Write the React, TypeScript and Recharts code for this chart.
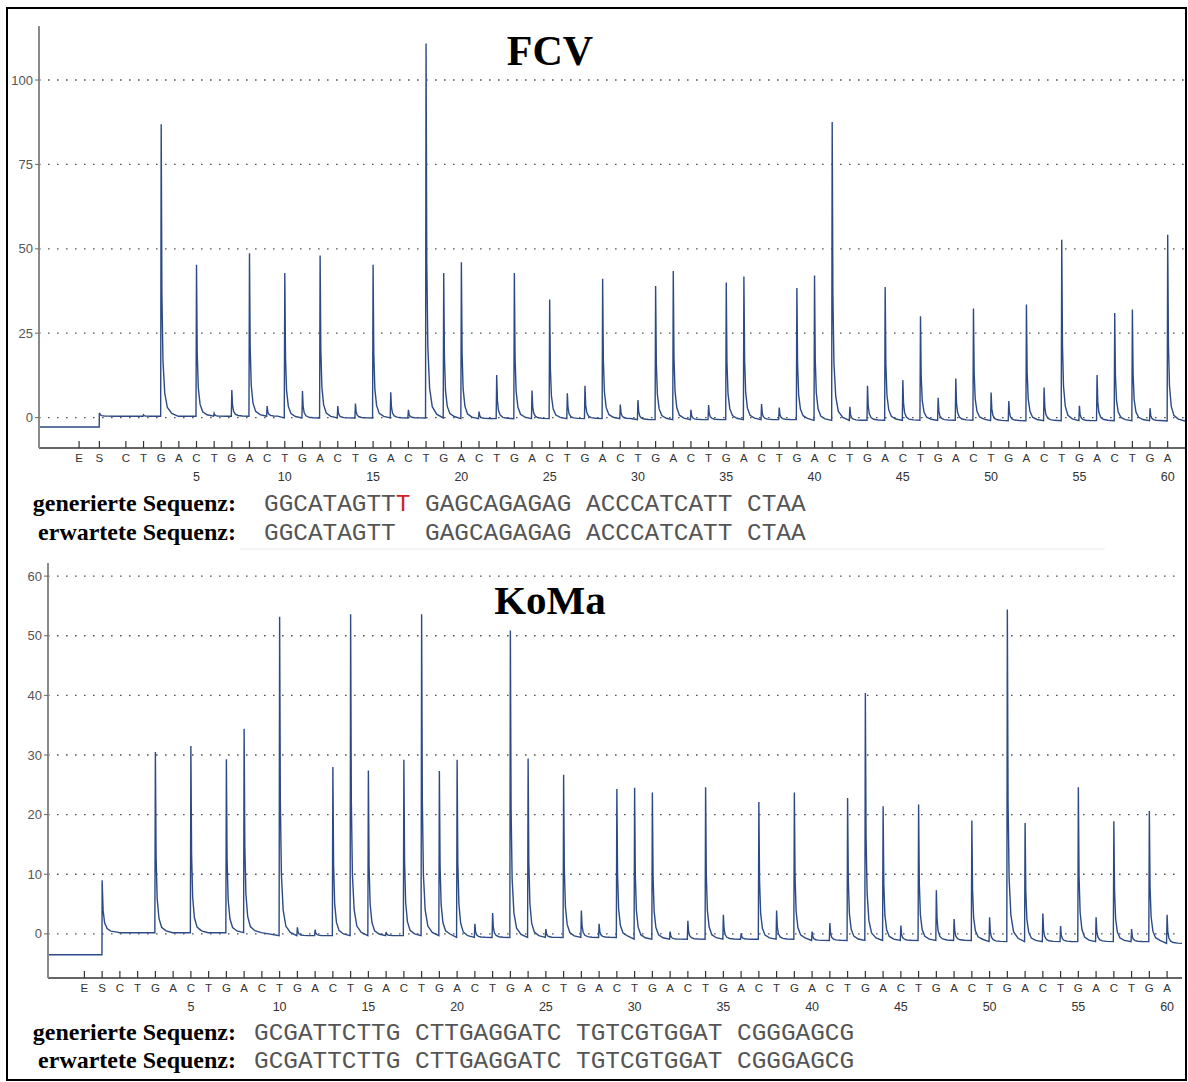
import React from 'react';
import { LineChart, Line, XAxis, YAxis, ReferenceLine } from 'recharts';

// ---------- labels ----------
const DISPENSATION = 'CTGACTGACTGACTGACTGACTGACTGACTGACTGACTGACTGACTGACTGACTGACTGA'.split('');
const POSITION_LABELS = [5, 10, 15, 20, 25, 30, 35, 40, 45, 50, 55, 60];

// ---------- FCV pyrogram (peak heights per dispensation 1..60) ----------
const FCV_PEAKS = [
  0, 0.8, 86.9, 0, 45.3, 1.3, 8.2, 48.7, 3.4, 42.8,
  7.9, 48, 3.4, 4.2, 45.3, 7.5, 2.3, 110.8, 42.8, 46,
  1.8, 12.6, 42.8, 8, 35, 7.2, 9.4, 41.1, 3.9, 5.2,
  39, 43.4, 2.3, 3.7, 40, 41.8, 4, 3, 38.4, 42.1,
  87.6, 3.2, 9.4, 38.7, 11.1, 30, 5.9, 11.6, 32.3, 7.4,
  4.9, 33.5, 8.9, 52.7, 3.5, 12.6, 31, 32, 2.8, 54.2,
];
const FCV_BASELINE = [0.4, -0.1, -0.3, -0.6, -0.8, -0.9, -1.0];
const FCV_PRE_START = -2.8;
const FCV_START_SIGNAL = 1.4;
const FCV_E = -1.65;
const FCV_S = -0.5;
const FCV_Y_TICKS = [0, 25, 50, 75, 100];

// ---------- KoMa pyrogram ----------
const KOMA_PEAKS = [
  0, 0, 30.5, 0, 31.5, 0, 29.3, 34.4, 0, 53.2,
  1.1, 0.7, 28, 53.6, 27.4, 0.3, 29.2, 53.6, 27.3, 29.2,
  1.7, 3.5, 50.9, 29.4, 0.8, 26.7, 3.9, 1.7, 24.3, 24.5,
  23.7, 0.4, 2.2, 24.6, 3.2, 0.1, 22.1, 3.9, 23.7, 0.4,
  1.8, 22.8, 40.4, 21.4, 1.4, 21.7, 7.3, 2.5, 19, 2.8,
  54.4, 18.6, 3.4, 1.3, 24.6, 2.8, 18.9, 0.8, 20.6, 3.2,
];
const KOMA_BASELINE = [0.2, -0.3, -0.6, -0.9, -1.1, -1.3, -1.6];
const KOMA_PRE_START = -3.5;
const KOMA_START_SIGNAL = 9;
const KOMA_E = -1;
const KOMA_S = 0;
const KOMA_Y_TICKS = [0, 10, 20, 30, 40, 50, 60];

// ---------- sequences ----------
const FCV_GENERATED = ['GGCATAGTT', 'T', ' GAGCAGAGAG ACCCATCATT CTAA'];
const FCV_EXPECTED = 'GGCATAGTT  GAGCAGAGAG ACCCATCATT CTAA';
const KOMA_GENERATED = 'GCGATTCTTG CTTGAGGATC TGTCGTGGAT CGGGAGCG';
const KOMA_EXPECTED = 'GCGATTCTTG CTTGAGGATC TGTCGTGGAT CGGGAGCG';

// peak decay profile (rendering of each pulse)
const DECAY: [number, number][] = [
  [0.04, 0.42],
  [0.1, 0.19],
  [0.2, 0.08],
  [0.35, 0.03],
  [0.6, 0.01],
];

function buildTrace(
  peaks: number[],
  baseline: number[],
  pre: number,
  startSignal: number,
  sPos: number,
  xMin: number,
  xMax: number
) {
  const base = (p: number) =>
    baseline[Math.min(baseline.length - 1, Math.floor(Math.max(p, 0) / 10))];
  const pts: { x: number; y: number }[] = [];
  pts.push({ x: xMin, y: pre });
  pts.push({ x: sPos - 0.01, y: pre });
  const b0 = base(0);
  pts.push({ x: sPos, y: startSignal });
  DECAY.forEach(([dx, f]) => pts.push({ x: sPos + dx * 1.4, y: b0 + f * (startSignal - b0) }));
  peaks.forEach((h, i) => {
    const p = i + 1;
    const b = base(p);
    pts.push({ x: p - 0.03, y: b });
    if (h > b + 0.3) {
      pts.push({ x: p, y: h });
      DECAY.forEach(([dx, f]) => pts.push({ x: p + dx, y: b + f * (h - b) }));
    }
  });
  pts.push({ x: xMax, y: base(60) });
  return pts;
}

const FCV_X_DOMAIN: [number, number] = [-3.92, 60.98];
const KOMA_X_DOMAIN: [number, number] = [-3.05, 60.84];

const fcvData = buildTrace(FCV_PEAKS, FCV_BASELINE, FCV_PRE_START, FCV_START_SIGNAL, FCV_S, FCV_X_DOMAIN[0], FCV_X_DOMAIN[1]);
const komaData = buildTrace(KOMA_PEAKS, KOMA_BASELINE, KOMA_PRE_START, KOMA_START_SIGNAL, KOMA_S, KOMA_X_DOMAIN[0], KOMA_X_DOMAIN[1]);

const positions = DISPENSATION.map((_, i) => i + 1);

const SANS = '"Liberation Sans", Arial, sans-serif';
const SERIF = '"Liberation Serif", "Times New Roman", serif';
const MONO = '"Liberation Mono", "Courier New", monospace';

const DispTick = (props: any) => {
  const { x, y, payload, ePos, sPos } = props;
  const v = payload.value;
  let label = '';
  if (Math.abs(v - ePos) < 1e-6) label = 'E';
  else if (Math.abs(v - sPos) < 1e-6) label = 'S';
  else label = DISPENSATION[Math.round(v) - 1] || '';
  const showNum = Math.abs(v - Math.round(v)) < 1e-6 && POSITION_LABELS.includes(Math.round(v));
  return (
    <g>
      <line x1={x} x2={x} y1={y - 7} y2={y} stroke="#333" strokeWidth={1.2} />
      <text x={x} y={y + 14} textAnchor="middle" fontSize={11.5} fill="#333" fontFamily={SANS}>
        {label}
      </text>
      {showNum && (
        <text x={x} y={y + 33} textAnchor="middle" fontSize={12.5} fill="#333" fontFamily={SANS}>
          {Math.round(v)}
        </text>
      )}
    </g>
  );
};

function Pyrogram(props: {
  data: { x: number; y: number }[];
  top: number;
  height: number;
  marginTop: number;
  marginRight: number;
  yWidth: number;
  xDomain: [number, number];
  yDomain: [number, number];
  yTicks: number[];
  ePos: number;
  sPos: number;
}) {
  const { data, top, height, marginTop, marginRight, yWidth, xDomain, yDomain, yTicks, ePos, sPos } = props;
  return (
    <div style={{ position: 'absolute', left: 0, top }}>
      <LineChart width={1188} height={height} data={data} margin={{ top: marginTop, right: marginRight, left: 0, bottom: 0 }}>
        <XAxis
          type="number"
          dataKey="x"
          domain={xDomain}
          allowDataOverflow
          ticks={[ePos, sPos, ...positions]}
          interval={0}
          tickSize={0}
          tickMargin={0}
          tickLine={false}
          axisLine={{ stroke: '#333', strokeWidth: 1.5 }}
          tick={<DispTick ePos={ePos} sPos={sPos} />}
          height={42}
        />
        <YAxis
          type="number"
          domain={yDomain}
          allowDataOverflow
          ticks={yTicks}
          interval={0}
          width={yWidth}
          tickSize={4}
          tickMargin={2}
          axisLine={{ stroke: '#8a8a8a', strokeWidth: 2 }}
          tickLine={{ stroke: '#666' }}
          tick={{ fontSize: 13, fill: '#555', fontFamily: SANS }}
        />
        {yTicks.map((t) => (
          <ReferenceLine key={t} y={t} stroke="#555" strokeWidth={1.3} strokeDasharray="1.6 7.4" />
        ))}
        <Line
          type="linear"
          dataKey="y"
          stroke="#2c4a85"
          strokeWidth={1.4}
          dot={false}
          isAnimationActive={false}
        />
      </LineChart>
    </div>
  );
}

export default function App() {
  return (
    <div style={{ position: 'absolute', left: 0, top: 0, width: 1188, height: 1082, background: '#fff', overflow: 'hidden' }}>
      <Pyrogram
        data={fcvData}
        top={0}
        height={490}
        marginTop={26}
        marginRight={3}
        yWidth={39}
        xDomain={FCV_X_DOMAIN}
        yDomain={[-9, 116]}
        yTicks={FCV_Y_TICKS}
        ePos={FCV_E}
        sPos={FCV_S}
      />
      <Pyrogram
        data={komaData}
        top={540}
        height={480}
        marginTop={23}
        marginRight={6}
        yWidth={48}
        xDomain={KOMA_X_DOMAIN}
        yDomain={[-7.4, 62.2]}
        yTicks={KOMA_Y_TICKS}
        ePos={KOMA_E}
        sPos={KOMA_S}
      />
      <svg width={1188} height={1082} style={{ position: 'absolute', left: 0, top: 0, pointerEvents: 'none' }}>
        <rect x={7} y={8} width={1179} height={1072} fill="none" stroke="#000" strokeWidth={2} />
        <line x1={240} x2={1105} y1={549} y2={549} stroke="#ececec" strokeWidth={1} />
        <text x={550} y={65} textAnchor="middle" fontFamily={SERIF} fontWeight="bold" fontSize={42} fill="#000">FCV</text>
        <text x={550} y={614} textAnchor="middle" fontFamily={SERIF} fontWeight="bold" fontSize={41} fill="#000">KoMa</text>

        <text x={236} y={511} textAnchor="end" fontFamily={SERIF} fontWeight="bold" fontSize={24} fill="#000">generierte Sequenz:</text>
        <text x={236} y={540} textAnchor="end" fontFamily={SERIF} fontWeight="bold" fontSize={24} fill="#000">erwartete Sequenz:</text>
        <text x={264} y={511} fontFamily={MONO} fontSize={24.4} fill="#555" style={{ whiteSpace: 'pre' }}>
          {FCV_GENERATED[0]}
          <tspan fill="#d42020">{FCV_GENERATED[1]}</tspan>
          {FCV_GENERATED[2]}
        </text>
        <text x={264} y={540} fontFamily={MONO} fontSize={24.4} fill="#555" style={{ whiteSpace: 'pre' }}>
          {FCV_EXPECTED}
        </text>

        <text x={236} y={1040} textAnchor="end" fontFamily={SERIF} fontWeight="bold" fontSize={24} fill="#000">generierte Sequenz:</text>
        <text x={236} y={1068} textAnchor="end" fontFamily={SERIF} fontWeight="bold" fontSize={24} fill="#000">erwartete Sequenz:</text>
        <text x={254} y={1040} fontFamily={MONO} fontSize={24.4} fill="#555" style={{ whiteSpace: 'pre' }}>
          {KOMA_GENERATED}
        </text>
        <text x={254} y={1068} fontFamily={MONO} fontSize={24.4} fill="#555" style={{ whiteSpace: 'pre' }}>
          {KOMA_EXPECTED}
        </text>
      </svg>
    </div>
  );
}
